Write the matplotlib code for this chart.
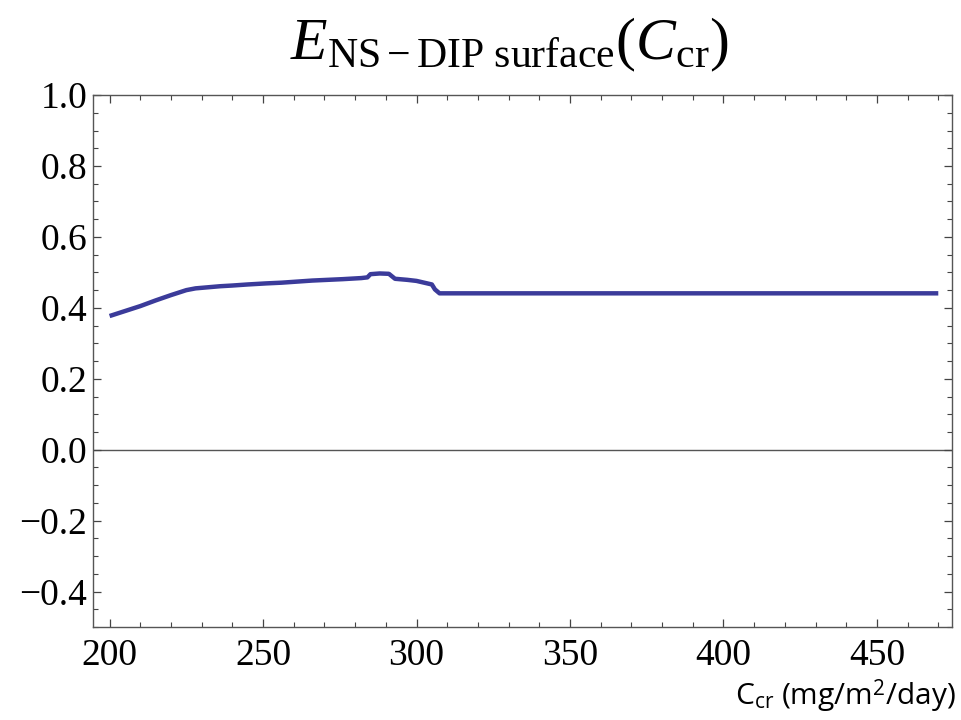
import matplotlib
matplotlib.use("Agg")
import matplotlib.pyplot as plt
from matplotlib.ticker import MultipleLocator

# values
c_cr = [200, 205, 210, 215, 220, 225, 228, 232, 236, 240, 245, 251, 256, 261, 266,
        271, 276, 282, 284, 285, 288, 291, 293, 297, 300, 303, 305, 306, 307.5,
        320, 350, 380, 410, 440, 470]
e_val = [0.377, 0.391, 0.405, 0.421, 0.436, 0.450, 0.455, 0.458, 0.461, 0.463,
         0.466, 0.469, 0.471, 0.474, 0.477, 0.479, 0.481, 0.484, 0.486, 0.495,
         0.497, 0.496, 0.482, 0.479, 0.476, 0.470, 0.466, 0.452, 0.441,
         0.441, 0.441, 0.441, 0.441, 0.441, 0.441]

x_ticks = [200, 250, 300, 350, 400, 450]
y_ticks = [-0.4, -0.2, 0.0, 0.2, 0.4, 0.6, 0.8, 1.0]

plt.rcParams['mathtext.fontset'] = 'custom'
plt.rcParams['mathtext.rm'] = 'Liberation Serif'
plt.rcParams['mathtext.it'] = 'Liberation Serif:italic'
plt.rcParams['mathtext.sf'] = 'Open Sans'

fig = plt.figure(figsize=(9.62, 7.2), dpi=100)
ax = fig.add_axes([0.0967, 0.129, 0.893, 0.739])

ax.axhline(0, color='#555555', lw=1.0, zorder=1)
ax.plot(c_cr, e_val, color='#3b3b9a', lw=3.2, solid_capstyle='butt', zorder=2)

ax.set_xlim(194.6, 474.5)
ax.set_ylim(-0.5, 1.0)
ax.set_xticks(x_ticks)
ax.set_yticks(y_ticks)
ax.set_yticklabels([f"{v:.1f}".replace('-', '\u2212') for v in y_ticks])
ax.xaxis.set_minor_locator(MultipleLocator(10))
ax.yaxis.set_minor_locator(MultipleLocator(0.05))

for lab in ax.get_xticklabels() + ax.get_yticklabels():
    lab.set_fontfamily('Liberation Serif')
    lab.set_fontsize(27)

ax.tick_params(which='both', direction='in', top=True, right=True, color='#444444')
ax.tick_params(which='major', length=6, width=0.9)
ax.tick_params(which='minor', length=3.5, width=0.8)
ax.tick_params(axis='y', pad=4)
ax.tick_params(axis='x', pad=8)
for s in ax.spines.values():
    s.set_color('#555555')
    s.set_linewidth(1.0)

fig.text(0.530, 0.917, r'$E_{\mathrm{NS-DIP\ surface}}(C_{\mathrm{cr}})$',
         fontsize=43, ha='center', va='baseline')
fig.text(0.993, 0.02, r'C$_{\mathsf{cr}}$ (mg/m$^{\mathsf{2}}$/day)',
         fontsize=21.5, family='Open Sans', ha='right', va='baseline')

fig.savefig('out.png', dpi=100)
